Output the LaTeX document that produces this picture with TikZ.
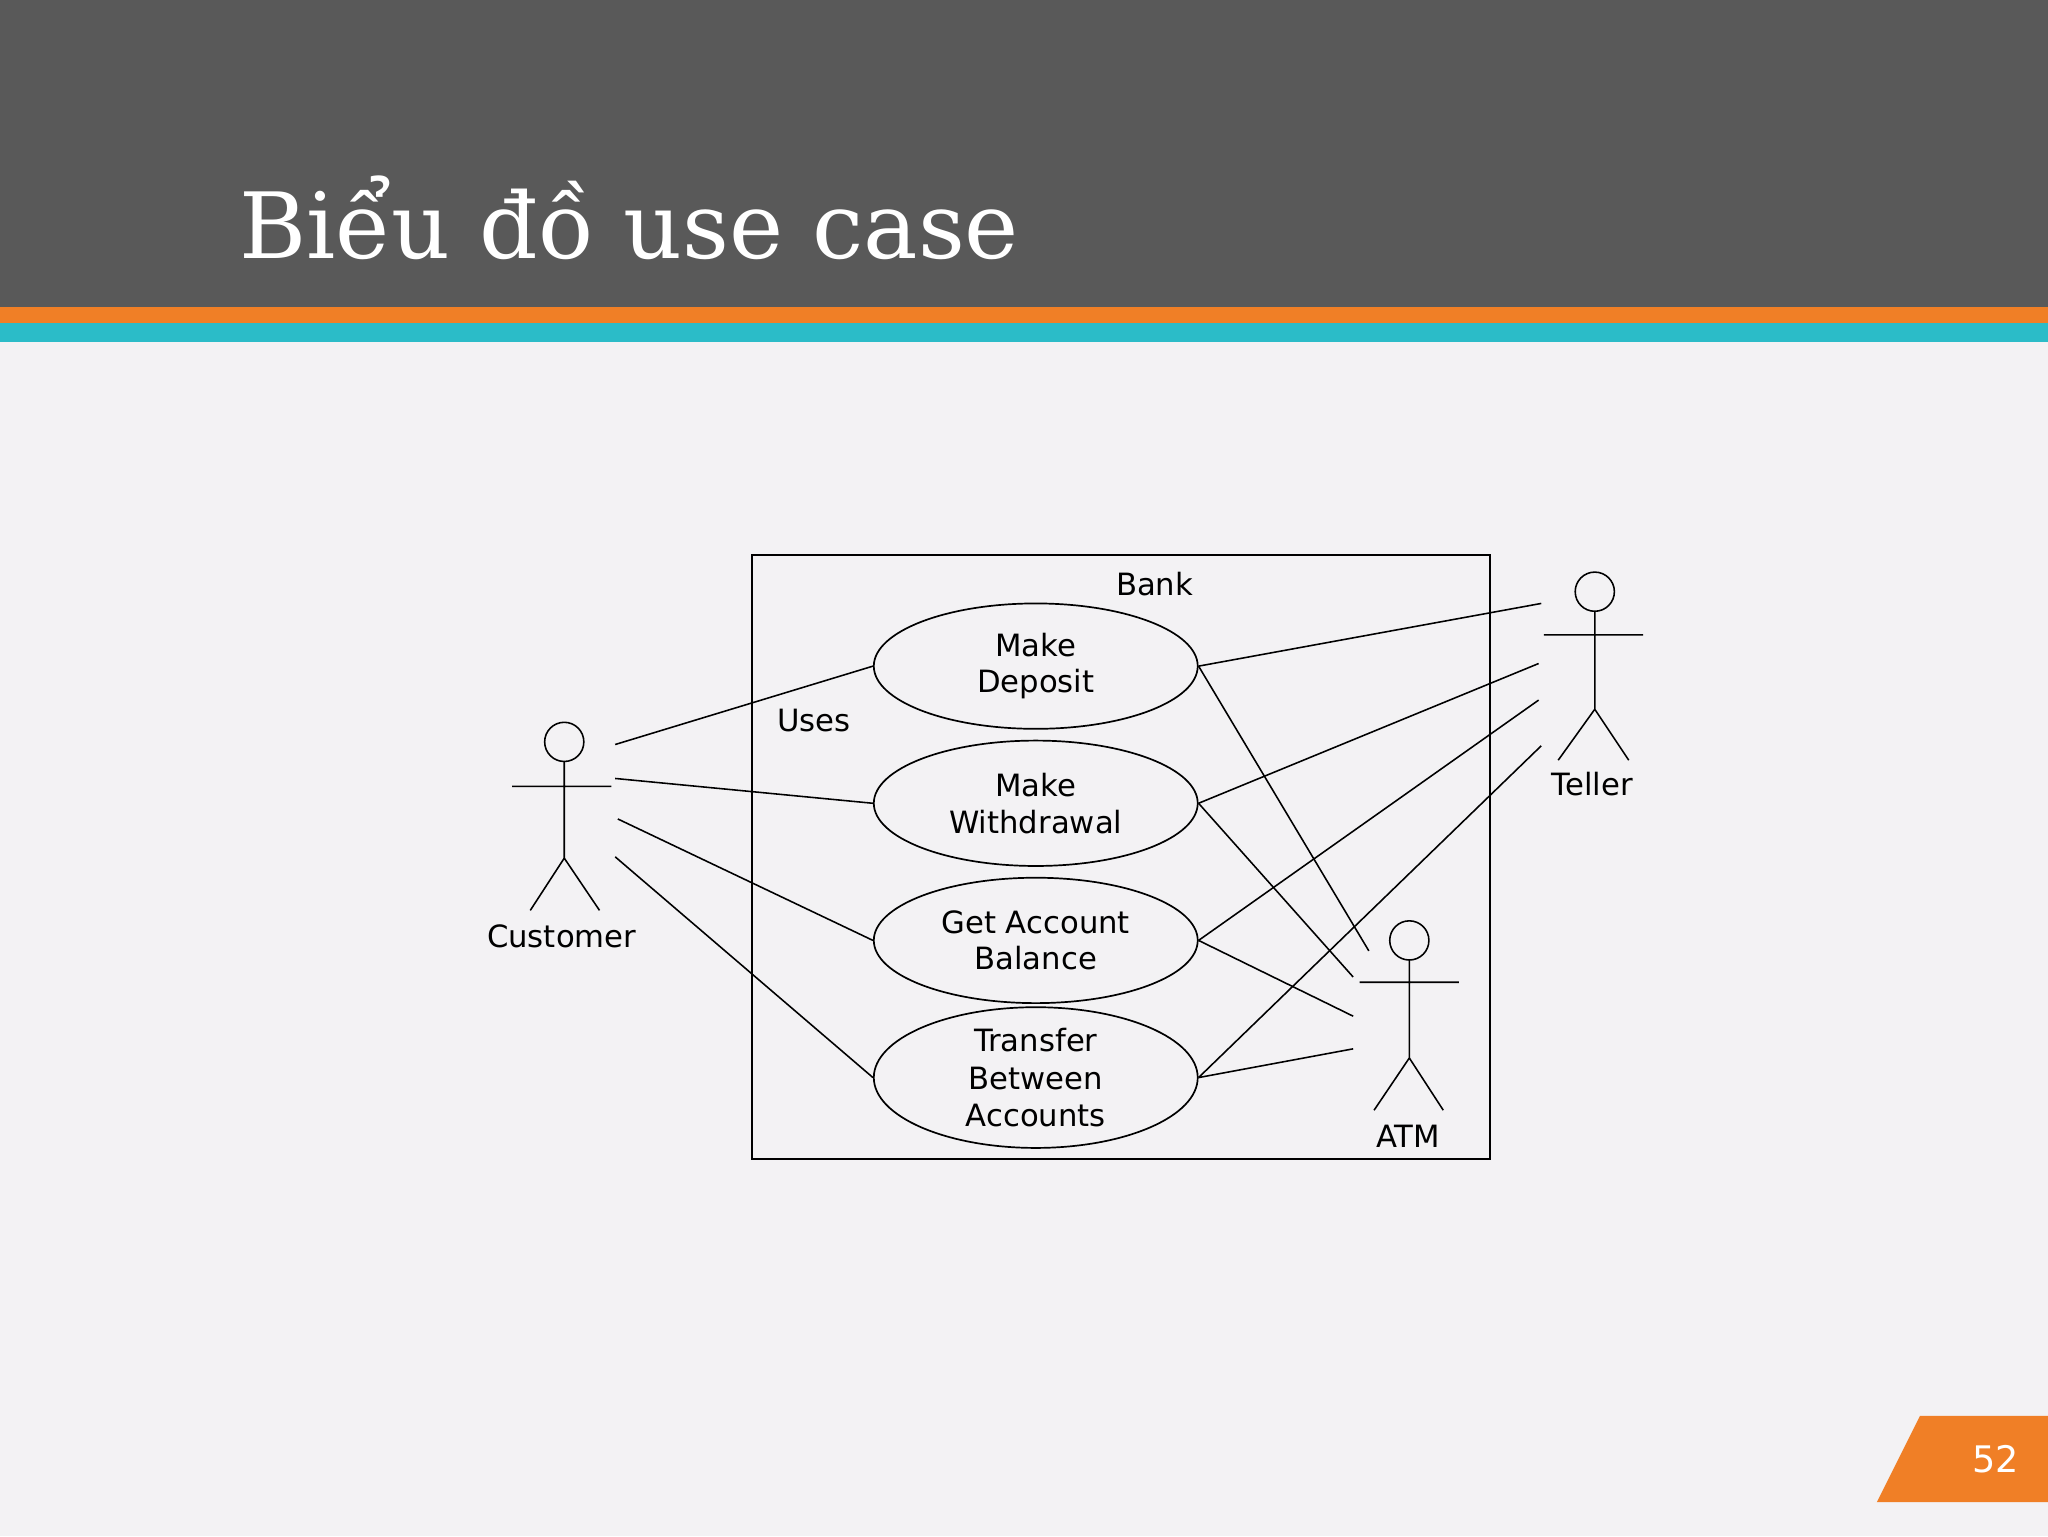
\documentclass[tikz,border=0pt]{standalone}
\usepackage{fontspec}
\setmainfont{DejaVu Sans}
\newfontfamily\titlefont{DejaVu Serif}
\usetikzlibrary{shapes.geometric}
\definecolor{bg}{HTML}{F3F2F4}
\definecolor{band}{HTML}{595959}
\definecolor{org}{HTML}{F07F26}
\definecolor{teal}{HTML}{2BBCC8}
\tikzset{uc/.style={ellipse,draw,line width=1.3pt,minimum width=248pt,minimum height=96pt,align=center,font=\fontsize{23.5}{28}\selectfont,inner sep=0pt},
lbl/.style={font=\fontsize{23.5}{26}\selectfont},
ln/.style={line width=1.2pt}}
\begin{document}
\begin{tikzpicture}[x=1pt,y=-1pt]
\fill[bg] (0,0) rectangle (1568,1176);
\useasboundingbox (0,0) rectangle (1568,1176);
\fill[band] (0,0) rectangle (1568,235);
\fill[org] (0,235) rectangle (1568,247);
\fill[teal] (0,247) rectangle (1568,262);
\node[anchor=base west,text=white,font=\titlefont\fontsize{70}{80}\selectfont,inner sep=0pt] (title) at (183,198) {Biểu đồ use case};
\fill[org] (1470,1084) -- (1568,1084) -- (1568,1150) -- (1437,1150) -- cycle;
\node[text=white,font=\fontsize{28}{32}\selectfont] (pg) at (1528,1117) {52};
\draw[line width=1.6pt] (576,425) rectangle (1141,887);
\node[lbl] (bank) at (884,447) {Bank};
\node[lbl] (uses) at (623,552) {Uses};
\node[uc] (u1) at (793,510) {Make\\Deposit};
\node[uc] (u2) at (793,615) {Make\\Withdrawal};
\node[uc] (u3) at (793,720) {Get Account\\Balance};
\node[uc,font=\fontsize{23.5}{29}\selectfont] (u4) at (793,825) {Transfer\\Between\\Accounts};
\begin{scope}[ln]
\draw (432,568) circle (15);
\draw (432,583) -- (432,657) (392,602) -- (468,602) (406,697) -- (432,657) -- (459,697);
\draw (1221,453) circle (15);
\draw (1221,468) -- (1221,543) (1182,486) -- (1258,486) (1193,582) -- (1221,543) -- (1247,582);
\draw (1079,720) circle (15);
\draw (1079,735) -- (1079,810) (1041,752) -- (1117,752) (1052,850) -- (1079,810) -- (1105,850);
\end{scope}
\node[lbl] (cust) at (430,717) {Customer};
\node[lbl] (tel) at (1219,600) {Teller};
\node[lbl] (atm) at (1078,870) {ATM};
\coordinate (c1) at (471,570); \coordinate (c2) at (471,596);
\coordinate (c3) at (473,627); \coordinate (c4) at (471,656);
\coordinate (t1) at (1180,462); \coordinate (t2) at (1178,508);
\coordinate (t3) at (1178,536); \coordinate (t4) at (1180,571);
\coordinate (a1) at (1048,728); \coordinate (a2) at (1036,748);
\coordinate (a3) at (1036,778); \coordinate (a4) at (1036,803);
\begin{scope}[ln]
\draw (c1) -- (u1.west); \draw (c2) -- (u2.west);
\draw (c3) -- (u3.west); \draw (c4) -- (u4.west);
\draw (t1) -- (u1.east); \draw (t2) -- (u2.east);
\draw (t3) -- (u3.east); \draw (t4) -- (u4.east);
\draw (u1.east) -- (a1); \draw (u2.east) -- (a2);
\draw (u3.east) -- (a3); \draw (u4.east) -- (a4);
\end{scope}
\end{tikzpicture}
\end{document}
